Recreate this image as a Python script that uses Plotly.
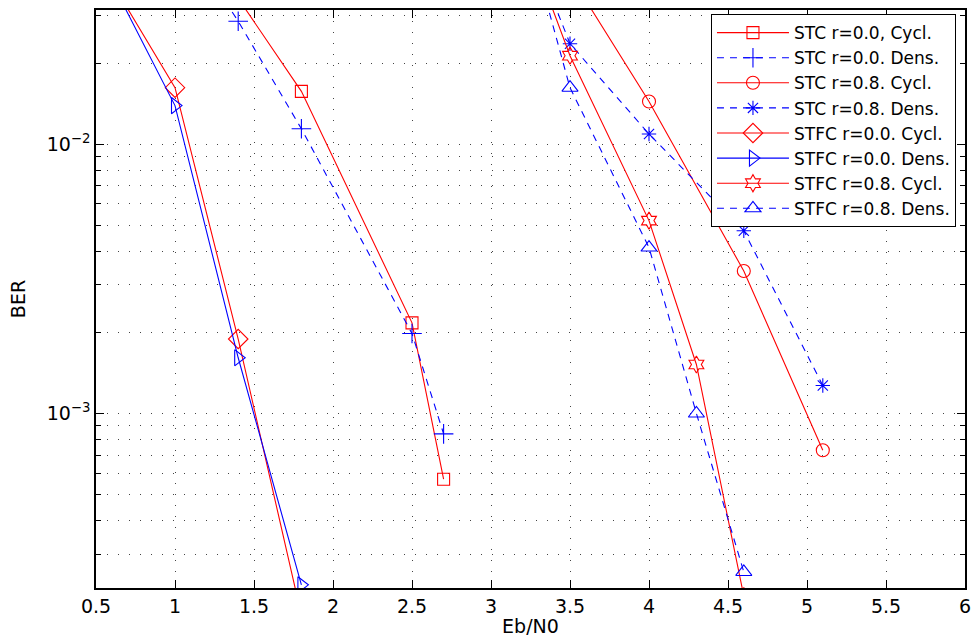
import plotly.graph_objects as go

# Eb/N0 points (dB) and measured bit error rates for each scheme
ebn0_stc00_cycl = [1.0, 1.8, 2.5, 2.7]
ber_stc00_cycl = [0.077, 0.0157, 2.17e-3, 5.7e-4]

ebn0_stc00_dens = [1.0, 1.4, 1.8, 2.5, 2.7]
ber_stc00_dens = [0.065, 0.0286, 0.0114, 1.98e-3, 8.4e-4]

ebn0_stc08_cycl = [3.0, 4.0, 4.6, 5.1]
ber_stc08_cycl = [0.125, 0.0144, 3.38e-3, 7.3e-4]

ebn0_stc08_dens = [3.0, 3.5, 4.0, 4.6, 5.1]
ber_stc08_dens = [0.13, 0.0236, 0.0109, 4.77e-3, 1.27e-3]

ebn0_stfc00_cycl = [0.5, 1.0, 1.4, 1.8]
ber_stfc00_cycl = [0.05, 0.0162, 1.89e-3, 1.78e-4]

ebn0_stfc00_dens = [0.5, 1.0, 1.4, 1.8]
ber_stfc00_dens = [0.052, 0.0139, 1.61e-3, 2.31e-4]

ebn0_stfc08_cycl = [3.0, 3.5, 4.0, 4.3, 4.6]
ber_stfc08_cycl = [0.13, 0.0213, 5.2e-3, 1.52e-3, 2.1e-4]

ebn0_stfc08_dens = [3.0, 3.5, 4.0, 4.3, 4.6]
ber_stfc08_dens = [0.19, 0.0162, 4.13e-3, 1.0e-3, 2.58e-4]

x_ticks = [0.5, 1, 1.5, 2, 2.5, 3, 3.5, 4, 4.5, 5, 5.5, 6]
y_major = [1e-3, 1e-2]
y_major_text = ["10<sup>\u22123</sup>", "10<sup>\u22122</sup>"]
y_minor = [m * d for d in (1e-4, 1e-3, 1e-2) for m in range(2, 10)]

RED = "#FF0000"
BLUE = "#0000FF"
FONT = "DejaVu Sans, Verdana, sans-serif"

series = [
    ("STC r=0.0, Cycl.", ebn0_stc00_cycl, ber_stc00_cycl, RED, "solid", "square-open", 12),
    ("STC r=0.0. Dens.", ebn0_stc00_dens, ber_stc00_dens, BLUE, "7px,6px", "cross-thin-open", 14),
    ("STC r=0.8. Cycl.", ebn0_stc08_cycl, ber_stc08_cycl, RED, "solid", "circle-open", 13),
    ("STC r=0.8. Dens.", ebn0_stc08_dens, ber_stc08_dens, BLUE, "7px,6px", "asterisk-open", 12),
    ("STFC r=0.0. Cycl.", ebn0_stfc00_cycl, ber_stfc00_cycl, RED, "solid", "diamond-open", 15),
    ("STFC r=0.0. Dens.", ebn0_stfc00_dens, ber_stfc00_dens, BLUE, "solid", "triangle-right-open", 14),
    ("STFC r=0.8. Cycl.", ebn0_stfc08_cycl, ber_stfc08_cycl, RED, "solid", "hexagram-open", 13),
    ("STFC r=0.8. Dens.", ebn0_stfc08_dens, ber_stfc08_dens, BLUE, "7px,6px", "triangle-up-open", 14),
]

fig = go.Figure()
for name, xs, ys, color, dash, symbol, size in series:
    fig.add_trace(go.Scatter(
        x=xs, y=ys, name=name, mode="lines+markers",
        line=dict(color=color, width=1.1, dash=dash),
        marker=dict(symbol=symbol, size=size, color=color,
                    line=dict(color=color, width=1.1)),
    ))

grid_style = dict(showgrid=True, gridcolor="#444444", gridwidth=1, griddash="1px,10px")

fig.update_layout(
    width=973, height=637,
    margin=dict(l=96, r=8, t=10, b=49, autoexpand=False),
    paper_bgcolor="white", plot_bgcolor="white",
    font=dict(family=FONT, size=19, color="black"),
    showlegend=True,
    legend=dict(
        x=0.9896, y=0.993, xanchor="right", yanchor="top",
        bgcolor="white", bordercolor="black", borderwidth=1,
        font=dict(family=FONT, size=17, color="black"),
        tracegroupgap=0, itemwidth=72,
    ),
    xaxis=dict(
        range=[0.5, 6], tickvals=x_ticks, ticks="inside", ticklen=8,
        tickcolor="black", showline=True, linecolor="black", linewidth=1.5,
        mirror="allticks", zeroline=False,
        tickfont=dict(family=FONT, size=19),
        title=dict(text="Eb/N0", font=dict(family=FONT, size=19), standoff=2),
        **grid_style,
    ),
    yaxis=dict(
        type="log", range=[-3.648, -1.502],
        tickvals=y_major, ticktext=y_major_text, ticks="inside", ticklen=8,
        tickcolor="black", showline=True, linecolor="black", linewidth=1.5,
        mirror="allticks", zeroline=False,
        tickfont=dict(family=FONT, size=19),
        title=dict(text="BER", font=dict(family=FONT, size=19), standoff=16),
        minor=dict(tickvals=y_minor, ticks="inside", ticklen=5, tickcolor="black",
                   showgrid=True, gridcolor="#444444", gridwidth=1, griddash="1px,10px"),
        **grid_style,
    ),
)

fig.write_html("out.html")
